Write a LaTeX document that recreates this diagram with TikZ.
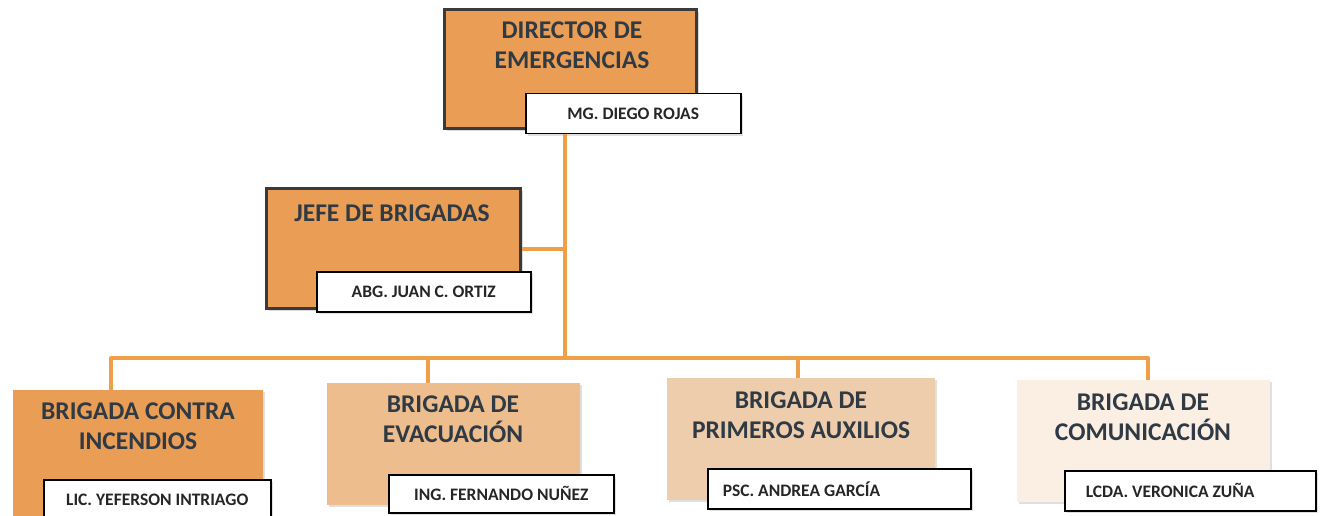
\documentclass[tikz,border=0pt]{standalone}
\usepackage{fontspec}
\setmainfont{Carlito}
\usetikzlibrary{shadows}
\definecolor{naranja}{HTML}{E99D55}
\definecolor{naranjaclaro}{HTML}{EDBD8D}
\definecolor{salmon}{HTML}{EECDAC}
\definecolor{crema}{HTML}{FBEFE4}
\definecolor{linea}{HTML}{EE9F48}
\definecolor{borde}{HTML}{3A3A3A}
\definecolor{texto}{HTML}{2F3A44}
\begin{document}
\begin{tikzpicture}[x=1pt,y=-1pt]
        \tikzset{cargo/.style = {rectangle,anchor=north west,inner sep=0pt,draw=borde,line width=3pt,fill=naranja,drop shadow={opacity=.3}}}
        \tikzset{brigada/.style = {rectangle,anchor=north west,inner sep=0pt,drop shadow={shadow xshift=2pt,shadow yshift=-2pt,opacity=.25}}}
        \tikzset{titulo/.style = {anchor=north,align=center,inner sep=0pt,text=texto,font=\bfseries\fontsize{25.5}{30}\selectfont}}
        \tikzset{nombre/.style = {rectangle,anchor=north west,draw=black,line width=1.5pt,fill=white,minimum height=40pt,text=black!85,font=\bfseries\fontsize{17.5}{20}\selectfont,drop shadow={opacity=.25}}}
        \tikzset{enlace/.style = {draw=linea,line width=4pt}}
        \useasboundingbox (0,0) rectangle (1328,516);
        % director and jefe
        \node[cargo,minimum width=252pt,minimum height=119pt] (dir) at (443,8) {};
        \node[titulo] (dirtit) at (572,22) {DIRECTOR DE\\EMERGENCIAS};
        \node[nombre,minimum width=215pt] (dirnom) at (525,93) {MG. DIEGO ROJAS};
        \node[cargo,minimum width=254pt,minimum height=120pt] (jefe) at (265,187) {};
        \node[titulo] (jefetit) at (392,205) {JEFE DE BRIGADAS};
        \node[nombre,minimum width=214pt] (jefenom) at (316,271) {ABG. JUAN C. ORTIZ};
        % brigadas
        \node[brigada,fill=naranja,minimum width=250pt,minimum height=140pt] (b1) at (13,390) {};
        \node[titulo] (b1tit) at (138,403) {BRIGADA CONTRA\\INCENDIOS};
        \node[nombre,minimum width=227pt] (b1nom) at (43,479) {LIC. YEFERSON INTRIAGO};
        \node[brigada,fill=naranjaclaro,minimum width=253pt,minimum height=122pt] (b2) at (327,383) {};
        \node[titulo] (b2tit) at (453,396) {BRIGADA DE\\EVACUACIÓN};
        \node[nombre,minimum width=225pt,minimum height=38pt] (b2nom) at (388,474) {ING. FERNANDO NUÑEZ};
        \node[brigada,fill=salmon,minimum width=268pt,minimum height=122pt] (b3) at (667,378) {};
        \node[titulo] (b3tit) at (801,392) {BRIGADA DE\\PRIMEROS AUXILIOS};
        \node[nombre,minimum width=263pt] (b3nom) at (707,468) {\makebox[233pt][l]{PSC. ANDREA GARCÍA}};
        \node[brigada,fill=crema,minimum width=253pt,minimum height=122pt] (b4) at (1017,380) {};
        \node[titulo] (b4tit) at (1143,394) {BRIGADA DE\\COMUNICACIÓN};
        \node[nombre,minimum width=251pt] (b4nom) at (1064,470) {\makebox[209pt][l]{LCDA. VERONICA ZUÑA}};
        % lines
        \coordinate (bus) at (565,358);
        \coordinate (d1) at (111,358);
        \coordinate (d2) at (428,358);
        \coordinate (d3) at (798,358);
        \coordinate (d4) at (1148,358);
        \draw[enlace] (dirnom.south -| bus) -- (bus);
        \draw[enlace] (jefe.east) -- (jefe.east -| bus);
        \draw[enlace,line cap=round] (d1) -- (d4);
        \draw[enlace] (d1) -- (d1 |- b1.north);
        \draw[enlace] (d2) -- (d2 |- b2.north);
        \draw[enlace] (d3) -- (d3 |- b3.north);
        \draw[enlace] (d4) -- (d4 |- b4.north);
\end{tikzpicture}
\end{document}
